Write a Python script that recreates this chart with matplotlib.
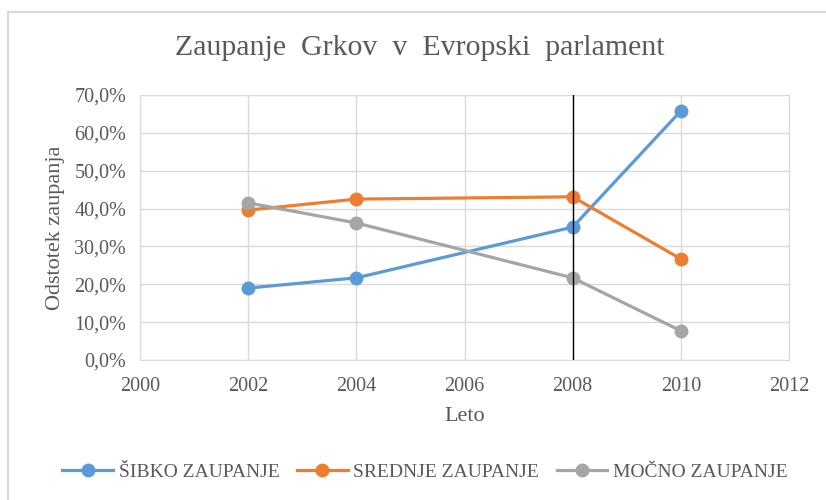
import numpy as np
from matplotlib import pyplot as plt
from matplotlib.patches import Rectangle
from matplotlib.ticker import FuncFormatter

# data
years = [2002, 2004, 2008, 2010]
sibko = [19.0, 21.7, 35.1, 65.8]
srednje = [39.6, 42.5, 43.1, 26.7]
mocno = [41.5, 36.2, 21.7, 7.7]
labels = ["ŠIBKO ZAUPANJE", "SREDNJE ZAUPANJE", "MOČNO ZAUPANJE"]
colors = ["#5B9BD5", "#ED7D31", "#A5A5A5"]

txt = "#595959"
plt.rcParams['font.family'] = ['Liberation Serif', 'DejaVu Serif']

fig = plt.figure(figsize=(8.26, 5), dpi=100)
fig.patches.append(Rectangle((8/826, -0.1), 1.0, 1.1 - 12/500, transform=fig.transFigure,
                             fill=False, edgecolor="#D9D9D9", linewidth=1.5))
ax = fig.add_axes([140/826, 140/500, (789-140)/826, (360-95)/500])

for vals, lab, col in zip([sibko, srednje, mocno], labels, colors):
    ax.plot(years, vals, color=col, linewidth=2.3, marker='o', markersize=9, label=lab, zorder=3)

ax.axvline(2008, color="black", linewidth=1, zorder=4)

ax.set_xlim(2000, 2012)
ax.set_ylim(0, 70)
ax.set_xticks(range(2000, 2013, 2))
ax.set_yticks(range(0, 71, 10))
ax.yaxis.set_major_formatter(FuncFormatter(lambda v, p: f"{v:.1f}%".replace(".", ",")))
ax.grid(True, color="#D9D9D9", linewidth=1)
ax.set_axisbelow(True)
for s in ax.spines.values():
    s.set_color("#D9D9D9")
ax.tick_params(length=0, colors=txt, labelsize=14.5)
ax.tick_params(axis='x', pad=12)
ax.tick_params(axis='y', pad=10)

ax.set_xlabel("Leto", color=txt, fontsize=16, labelpad=8)
ax.set_ylabel("Odstotek zaupanja", color=txt, fontsize=16, labelpad=7)
fig.text(420/826, 1 - 48/500, "Zaupanje  Grkov  v  Evropski  parlament", ha="center", va="center",
         color=txt, fontsize=21.5)

leg = fig.legend(loc="center", bbox_to_anchor=(425/826, 1 - 472/500), ncol=3, frameon=False,
                 fontsize=14, handlelength=2.6, columnspacing=0.9, handletextpad=0.3)
for t in leg.get_texts():
    t.set_color(txt)

fig.savefig("out.png", dpi=100)
